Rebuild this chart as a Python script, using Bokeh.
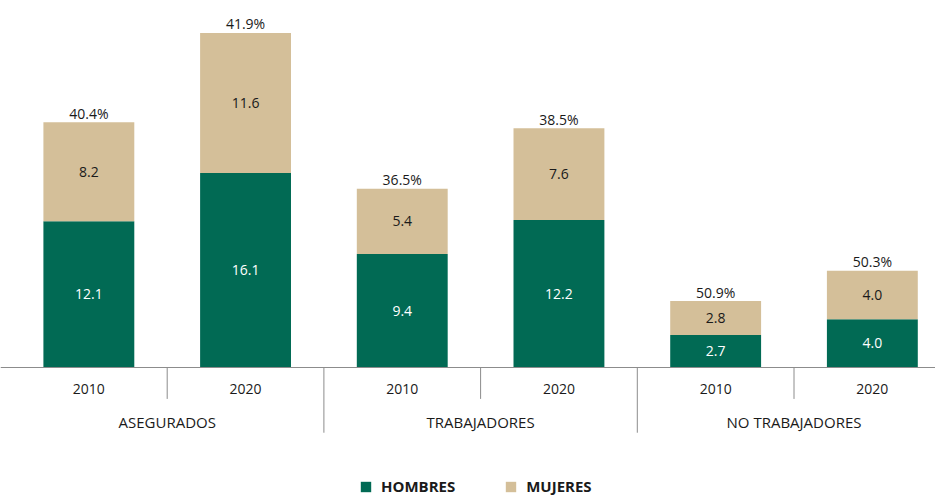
from bokeh.plotting import figure
from bokeh.models import ColumnDataSource, Range1d, Span, Legend, LegendItem
from bokeh.core.properties import value
from bokeh.embed import file_html
from bokeh.resources import INLINE

groups = ["ASEGURADOS", "TRABAJADORES", "NO TRABAJADORES"]
years = ["2010", "2020"]
hombres = [12.1, 16.1, 9.4, 12.2, 2.7, 4.0]
mujeres = [8.2, 11.6, 5.4, 7.6, 2.8, 4.0]
pct_mujeres = [40.4, 41.9, 36.5, 38.5, 50.9, 50.3]

GREEN = "#016A54"
TAN = "#D4BF99"
FONT = "Open Sans"
FS = "14px"
PX = 156.7  # pixels per slot
x_start = -10 / PX
x_end = 925 / PX
ppu = 12.08
y_end = 367 / ppu
y_start = -(497 - 367) / ppu

xs = [i + 0.5 for i in range(len(hombres))]
year_labels = [y for g in groups for y in years]
tops = [h + m for h, m in zip(hombres, mujeres)]

src = ColumnDataSource(dict(
    x=xs,
    hombres=hombres,
    mujeres=mujeres,
    top=tops,
    mid_h=[h / 2 for h in hombres],
    mid_m=[h + m / 2 for h, m in zip(hombres, mujeres)],
    lab_h=[f"{v:.1f}" for v in hombres],
    lab_m=[f"{v:.1f}" for v in mujeres],
    lab_p=[f"{v:.1f}%" for v in pct_mujeres],
    pct_y=[t + 0.75 for t in tops],
    year=year_labels,
    year_y=[-1.74] * len(xs),
))

p = figure(width=935, height=497, output_backend="svg", toolbar_location=None,
           x_range=Range1d(x_start, x_end), y_range=Range1d(y_start, y_end),
           min_border_left=0, min_border_right=0, min_border_top=0, min_border_bottom=0)
p.axis.visible = False
p.grid.visible = False
p.outline_line_color = None
p.background_fill_color = "white"

rs = p.vbar_stack(["hombres", "mujeres"], x="x", width=0.58, source=src,
                  color=[GREEN, TAN], line_color=None)

p.text(x="x", y="mid_h", text="lab_h", source=src, text_align="center", text_baseline="middle",
       text_font=value(FONT), text_font_size=FS, text_color="white")
p.text(x="x", y="mid_m", text="lab_m", source=src, text_align="center", text_baseline="middle",
       text_font=value(FONT), text_font_size=FS, text_color="#1a1a1a")
p.text(x="x", y="pct_y", text="lab_p", source=src, text_align="center", text_baseline="middle",
       text_font=value(FONT), text_font_size=FS, text_color="#1a1a1a")

# category axis drawn by hand
p.add_layout(Span(location=0, dimension="width", line_color="#8c8c8c", line_width=1))
p.text(x="x", y="year_y", text="year", source=src, text_align="center", text_baseline="middle",
       text_font=value(FONT), text_font_size=FS, text_color="#1a1a1a")

gsrc = ColumnDataSource(dict(x=[2 * i + 1 for i in range(len(groups))],
                             y=[-4.55] * len(groups), g=groups))
p.text(x="x", y="y", text="g", source=gsrc, text_align="center", text_baseline="middle",
       text_font=value(FONT), text_font_size="15px", text_color="#1a1a1a")

sep_short = [1, 3, 5]
sep_long = [2, 4]
p.segment(x0=sep_short, y0=[0] * 3, x1=sep_short, y1=[-2.6] * 3, line_color="#8c8c8c", line_width=1)
p.segment(x0=sep_long, y0=[0] * 2, x1=sep_long, y1=[-5.4] * 2, line_color="#8c8c8c", line_width=1)

legend = Legend(items=[LegendItem(label="HOMBRES", renderers=[rs[0]]),
                       LegendItem(label="MUJERES", renderers=[rs[1]])],
                orientation="horizontal", location=(359, 1),
                border_line_color=None, background_fill_alpha=0,
                padding=0, margin=0, spacing=49, label_standoff=9,
                glyph_width=13, glyph_height=13, label_height=13,
                label_text_font=FONT, label_text_font_size="15px",
                label_text_font_style="bold", label_text_color="#1a1a1a")
p.add_layout(legend, "center")

open("out.html", "w").write(file_html(p, INLINE))
